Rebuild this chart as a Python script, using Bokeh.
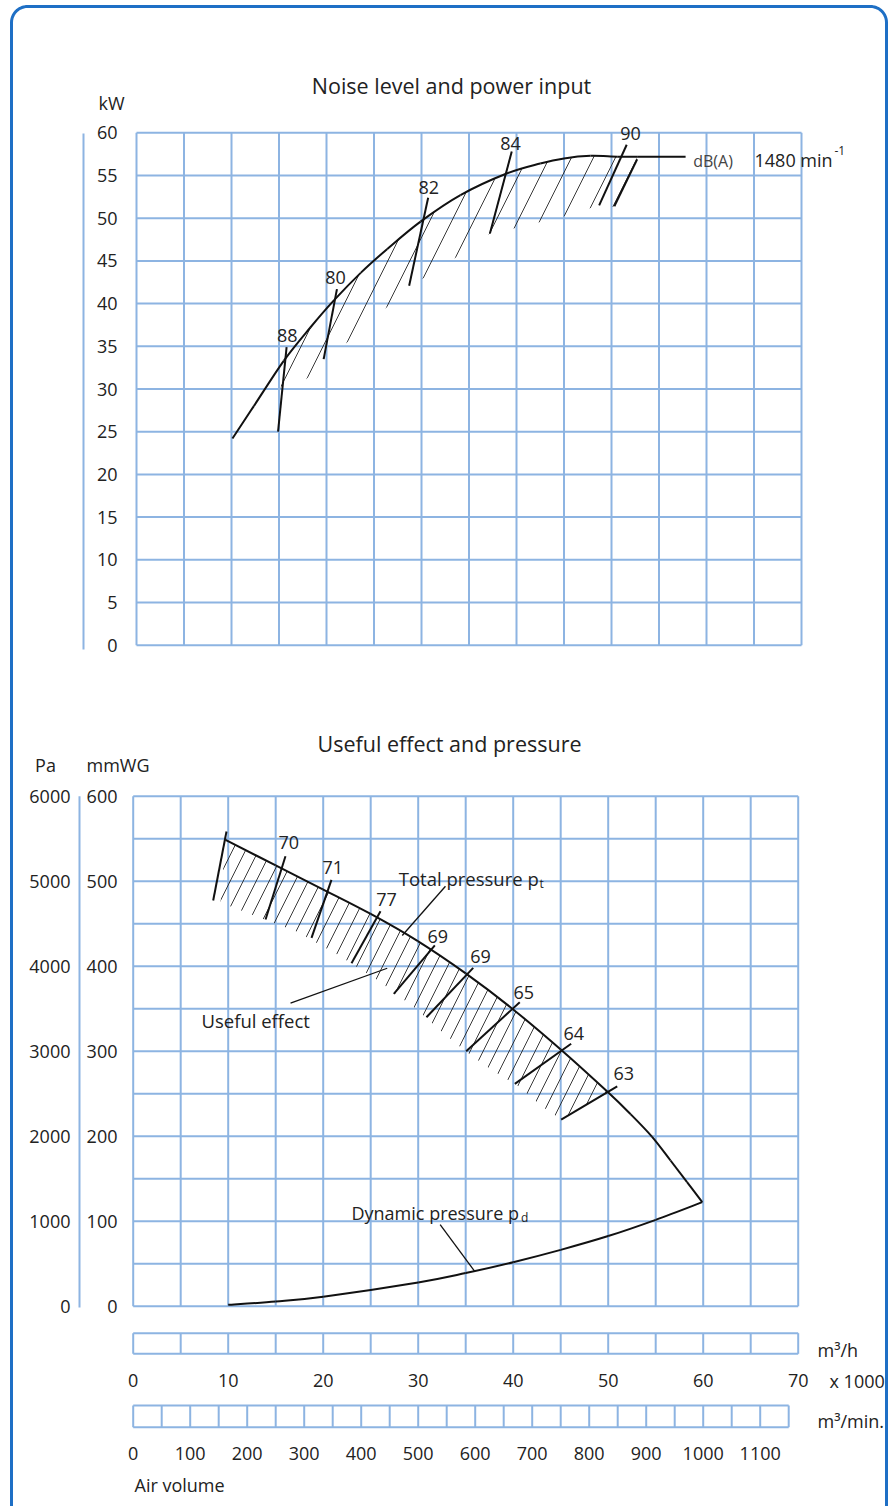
import numpy as np
from bokeh.plotting import figure
from bokeh.models import Range1d
from bokeh.embed import file_html
from bokeh.resources import INLINE
from bokeh.core.properties import value

# ---------------- data ----------------
# air volume grid (x 1000 m3/h)
vol_grid = [0, 5, 10, 15, 20, 25, 30, 35, 40, 45, 50, 55, 60, 65, 70]
vol_labels = [0, 10, 20, 30, 40, 50, 60, 70]
m3min_grid = [0, 50, 100, 150, 200, 250, 300, 350, 400, 450, 500, 550, 600,
              650, 700, 750, 800, 850, 900, 950, 1000, 1050, 1100, 1150]
m3min_labels = [0, 100, 200, 300, 400, 500, 600, 700, 800, 900, 1000, 1100]

# top panel: power input (kW)
kw_ticks = [0, 5, 10, 15, 20, 25, 30, 35, 40, 45, 50, 55, 60]
power_x = [10.1, 12.35, 15.5, 18.3, 20.8, 23.6, 26.4, 29.9, 34.1, 38.9, 42.5, 45.0, 47.8, 50.6, 52.7]
power_kw = [24.2, 28.0, 33.3, 37.2, 40.4, 43.6, 46.4, 49.6, 52.7, 55.2, 56.4, 57.0, 57.3, 57.2, 57.2]
noise_lo_x = [15.0, 20.4, 25.7, 30.1, 33.9, 37.2, 39.7, 42.3, 44.6, 47.2, 48.7, 50.3, 52.7]
noise_lo_kw = [28.3, 33.7, 39.0, 42.9, 45.6, 48.2, 48.8, 49.5, 50.1, 51.0, 51.5, 51.3, 57.1]
noise_mark_x_hi = [15.8, 21.1, 30.7, 39.5, 51.6, 52.7]
noise_mark_kw_hi = [34.9, 41.7, 52.4, 57.8, 58.6, 56.9]
noise_mark_x_lo = [14.9, 19.7, 28.7, 37.2, 48.7, 50.3]
noise_mark_kw_lo = [25.0, 33.5, 42.1, 48.2, 51.5, 51.4]
noise_labels = ["88", "80", "82", "84", "90"]
noise_label_x = [15.86, 20.95, 30.77, 39.37, 52.0]
noise_label_kw = [36.26, 43.09, 53.56, 58.78, 59.88]

# bottom panel: pressures (mmWG)
mmwg_ticks = [0, 100, 200, 300, 400, 500, 600]
pa_ticks = [0, 1000, 2000, 3000, 4000, 5000, 6000]
mmwg_grid = [0, 50, 100, 150, 200, 250, 300, 350, 400, 450, 500, 550, 600]
total_x = [9.72, 15.0, 19.96, 25.0, 29.96, 35.0, 39.9, 45.0, 49.9, 52.35, 54.6, 56.56, 58.3, 59.9]
total_p = [548.7, 518.5, 490.5, 461.5, 429.5, 391.5, 350, 302, 252.5, 226.0, 199.5, 171.4, 145.9, 122.4]
dyn_x = [10, 15, 20, 30, 35, 40, 45, 50, 55, 59.9]
dyn_p = [1.6, 5.5, 11.2, 28.0, 39.0, 51.8, 66.3, 82.5, 101.6, 122.4]
eff_lo_x = [9.19, 12.45, 17.19, 21.54, 25.79, 29.72, 32.35, 34.98, 37.7, 40.42, 43.05, 45.05, 50.95]
eff_lo_p = [475, 460.8, 440.8, 413.4, 383.2, 350.2, 324.4, 300, 278.1, 259.6, 234.9, 219.6, 258.5]
eff_x_hi = [9.82, 16.03, 20.87, 26.03, 31.75, 35.79, 40.69, 46.1, 50.95]
eff_p_hi = [558.5, 529.4, 501.6, 464.7, 424.4, 398.1, 357.6, 308.7, 258.5]
eff_x_lo = [8.42, 13.93, 18.77, 22.98, 27.43, 30.87, 35.05, 40.17, 45.05]
eff_p_lo = [477.3, 455, 433.4, 403.5, 367.5, 340, 300, 261.6, 219.6]
eff_labels = ["70", "71", "77", "69", "69", "65", "64", "63"]
eff_label_x = [16.38, 21.01, 26.66, 32.06, 36.56, 41.12, 46.38, 51.64]
eff_label_p = [545.9, 515.8, 478.5, 434.9, 411.4, 369.4, 321.2, 273.4]
leader_x0 = [32.87, 16.56, 32.31]
leader_p0 = [494.1, 356.5, 96.1]
leader_x1 = [28.32, 26.74, 35.93]
leader_p1 = [436.1, 397.6, 41.2]

# ---------------- styling ----------------
FONT = value("Open Sans")
GRID = "#8db4e2"
BORDER = "#1e6fc5"
INK = "#111111"
TXT = "#222222"

W, H = 893, 1506
PX0, PY0 = 0, 0

p = figure(width=W, height=H, output_backend="svg", toolbar_location=None,
           x_range=Range1d(PX0, PX0 + W), y_range=Range1d(PY0 + H, PY0),
           x_axis_location=None, y_axis_location=None, min_border=0,
           outline_line_color=None, background_fill_color="white",
           border_fill_color="white")
p.grid.visible = False


def lin_range(d0, p0, d1, p1, lo, hi):
    k = (p1 - p0) / (d1 - d0)
    return Range1d(start=(lo - p0) / k + d0, end=(hi - p0) / k + d0)


XL, XR, YB, YT = PX0, PX0 + W, PY0 + H, PY0
p.extra_x_ranges = {
    "tx": lin_range(0, 136, 70, 801, XL, XR),
    "bx": lin_range(0, 132.7, 70, 797.7, XL, XR),
    "mx": lin_range(0, 132.7, 1200, 816.7, XL, XR),
}
p.extra_y_ranges = {
    "ty": lin_range(0, 644.7, 60, 132.3, YB, YT),
    "by": lin_range(0, 1305.7, 600, 795.7, YB, YT),
    "pa": lin_range(0, 1305.7, 6000, 795.7, YB, YT),
}


def txt(xs, ys, labels, size="18px", align="center", baseline="middle",
        color=TXT, xr="default", yr="default"):
    p.text(x=xs, y=ys, text=labels, text_font=FONT, text_font_size=value(size),
           text_align=align, text_baseline=baseline, text_color=color,
           x_range_name=xr, y_range_name=yr)


def smooth_curve(xs, ys, xr, yr, **kw):
    """Draw a smooth curve through the given points (Catmull-Rom as cubic Bezier)."""
    P = np.column_stack([xs, ys]).astype(float)
    n = len(P)
    x0, y0, x1, y1, cx0, cy0, cx1, cy1 = ([] for _ in range(8))
    for i in range(n - 1):
        a = P[i - 1] if i > 0 else P[i]
        b, c = P[i], P[i + 1]
        d = P[i + 2] if i + 2 < n else P[i + 1]
        c1 = b + (c - a) / 6.0
        c2 = c - (d - b) / 6.0
        x0.append(b[0]); y0.append(b[1]); x1.append(c[0]); y1.append(c[1])
        cx0.append(c1[0]); cy0.append(c1[1]); cx1.append(c2[0]); cy1.append(c2[1])
    p.bezier(x0=x0, y0=y0, x1=x1, y1=y1, cx0=cx0, cy0=cy0, cx1=cx1, cy1=cy1,
             x_range_name=xr, y_range_name=yr, **kw)


# ---------------- outer rounded frame ----------------
r = 16
L, R, T, B = 11, 886, 6, 1560
a1 = np.linspace(np.pi, np.pi / 2, 14)
a2 = np.linspace(np.pi / 2, 0, 14)
fx = [L] + list(L + r + r * np.cos(a1)) + list(R - r + r * np.cos(a2)) + [R]
fy = [B] + list(T + r - r * np.sin(a1)) + list(T + r - r * np.sin(a2)) + [B]
p.line(fx, fy, line_color=BORDER, line_width=3)

# ---------------- top panel ----------------
n = len(vol_grid)
p.segment(x0=vol_grid, y0=[0] * n, x1=vol_grid, y1=[60] * n, line_color=GRID,
          line_width=2, x_range_name="tx", y_range_name="ty")
m = len(kw_ticks)
p.segment(x0=[0] * m, y0=kw_ticks, x1=[70] * m, y1=kw_ticks, line_color=GRID,
          line_width=2, x_range_name="tx", y_range_name="ty")
p.segment(x0=[83], y0=[133], x1=[83], y1=[649], line_color=GRID, line_width=2)
txt([117] * m, kw_ticks, [str(v) for v in kw_ticks], align="right", yr="ty")
txt([98], [102], ["kW"], align="left", baseline="alphabetic")
txt([451], [85], ["Noise level and power input"], size="21.5px", baseline="alphabetic")

band_x = power_x[2:] + noise_lo_x[::-1]
band_y = power_kw[2:] + noise_lo_kw[::-1]
p.patch(band_x, band_y, fill_alpha=0, line_color=None, hatch_pattern="/",
        hatch_color="#222222", hatch_weight=0.9, hatch_scale=44,
        x_range_name="tx", y_range_name="ty")
smooth_curve(power_x, power_kw, "tx", "ty", line_color=INK, line_width=2)
p.segment(x0=[power_x[-1]], y0=[power_kw[-1]], x1=[57.8], y1=[power_kw[-1]],
          line_color=INK, line_width=2, x_range_name="tx", y_range_name="ty")
p.segment(x0=noise_mark_x_hi, y0=noise_mark_kw_hi, x1=noise_mark_x_lo,
          y1=noise_mark_kw_lo, line_color=INK, line_width=2,
          x_range_name="tx", y_range_name="ty")
txt(noise_label_x, noise_label_kw, noise_labels, xr="tx", yr="ty")
txt([692.7], [160], ["dB(A)"], size="16px", align="left", baseline="alphabetic",
    color="#444444")
txt([754], [159.3], ["1480 min"], align="left", baseline="alphabetic")
txt([834], [150], ["-1"], size="12px", align="left", baseline="alphabetic")

# ---------------- bottom panel ----------------
p.segment(x0=vol_grid, y0=[0] * n, x1=vol_grid, y1=[600] * n, line_color=GRID,
          line_width=2, x_range_name="bx", y_range_name="by")
g = len(mmwg_grid)
p.segment(x0=[0] * g, y0=mmwg_grid, x1=[70] * g, y1=mmwg_grid, line_color=GRID,
          line_width=2, x_range_name="bx", y_range_name="by")
p.segment(x0=[79], y0=[795.7], x1=[79], y1=[1307], line_color=GRID, line_width=2)
k = len(mmwg_ticks)
txt([117] * k, mmwg_ticks, [str(v) for v in mmwg_ticks], align="right", yr="by")
txt([70] * k, pa_ticks, [str(v) for v in pa_ticks], align="right", yr="pa")
txt([45], [764], ["Pa"], baseline="alphabetic")
txt([86], [764], ["mmWG"], align="left", baseline="alphabetic")
txt([449], [743], ["Useful effect and pressure"], size="21.5px", baseline="alphabetic")

eband_x = total_x[:9] + eff_lo_x[::-1]
eband_y = total_p[:9] + eff_lo_p[::-1]
p.patch(eband_x, eband_y, fill_alpha=0, line_color=None, hatch_pattern="/",
        hatch_color="#222222", hatch_weight=0.9, hatch_scale=26,
        x_range_name="bx", y_range_name="by")
smooth_curve(total_x, total_p, "bx", "by", line_color=INK, line_width=2)
smooth_curve(dyn_x, dyn_p, "bx", "by", line_color=INK, line_width=2)
p.segment(x0=eff_x_hi, y0=eff_p_hi, x1=eff_x_lo, y1=eff_p_lo, line_color=INK,
          line_width=2, x_range_name="bx", y_range_name="by")
p.segment(x0=leader_x0, y0=leader_p0, x1=leader_x1, y1=leader_p1,
          line_color=INK, line_width=1.3, x_range_name="bx", y_range_name="by")
txt(eff_label_x, eff_label_p, eff_labels, xr="bx", yr="by")
txt([398.3], [878.3], ["Total pressure p"], size="18.5px", align="left", baseline="alphabetic")
txt([539], [883], ["t"], size="12px", align="left", baseline="alphabetic")
txt([351], [1212.7], ["Dynamic pressure p"], size="18px", align="left", baseline="alphabetic")
txt([520.5], [1217], ["d"], size="12px", align="left", baseline="alphabetic")
txt([201], [1020], ["Useful effect"], size="18.5px", align="left", baseline="alphabetic")

# ---------------- air volume scales ----------------
s1_top, s1_bot = 1332.7, 1353.3
p.segment(x0=vol_grid, y0=[s1_top] * n, x1=vol_grid, y1=[s1_bot] * n,
          line_color=GRID, line_width=2, x_range_name="bx")
p.segment(x0=[0, 0], y0=[s1_top, s1_bot], x1=[70, 70], y1=[s1_top, s1_bot],
          line_color=GRID, line_width=2, x_range_name="bx")
txt(vol_labels, [1380] * len(vol_labels), [str(v) for v in vol_labels],
    baseline="alphabetic", xr="bx")
txt([817], [1349], ["m³/h"], align="left", baseline="alphabetic")
txt([829], [1380], ["x 1000"], align="left", baseline="alphabetic")

s2_top, s2_bot = 1405, 1426.7
q = len(m3min_grid)
p.segment(x0=m3min_grid, y0=[s2_top] * q, x1=m3min_grid, y1=[s2_bot] * q,
          line_color=GRID, line_width=2, x_range_name="mx")
p.segment(x0=[0, 0], y0=[s2_top, s2_bot], x1=[1150, 1150], y1=[s2_top, s2_bot],
          line_color=GRID, line_width=2, x_range_name="mx")
txt(m3min_labels, [1452.7] * len(m3min_labels), [str(v) for v in m3min_labels],
    baseline="alphabetic", xr="mx")
txt([817], [1420], ["m³/min."], align="left", baseline="alphabetic")
txt([134], [1484], ["Air volume"], align="left", baseline="alphabetic")

open("out.html", "w").write(file_html(p, INLINE))
